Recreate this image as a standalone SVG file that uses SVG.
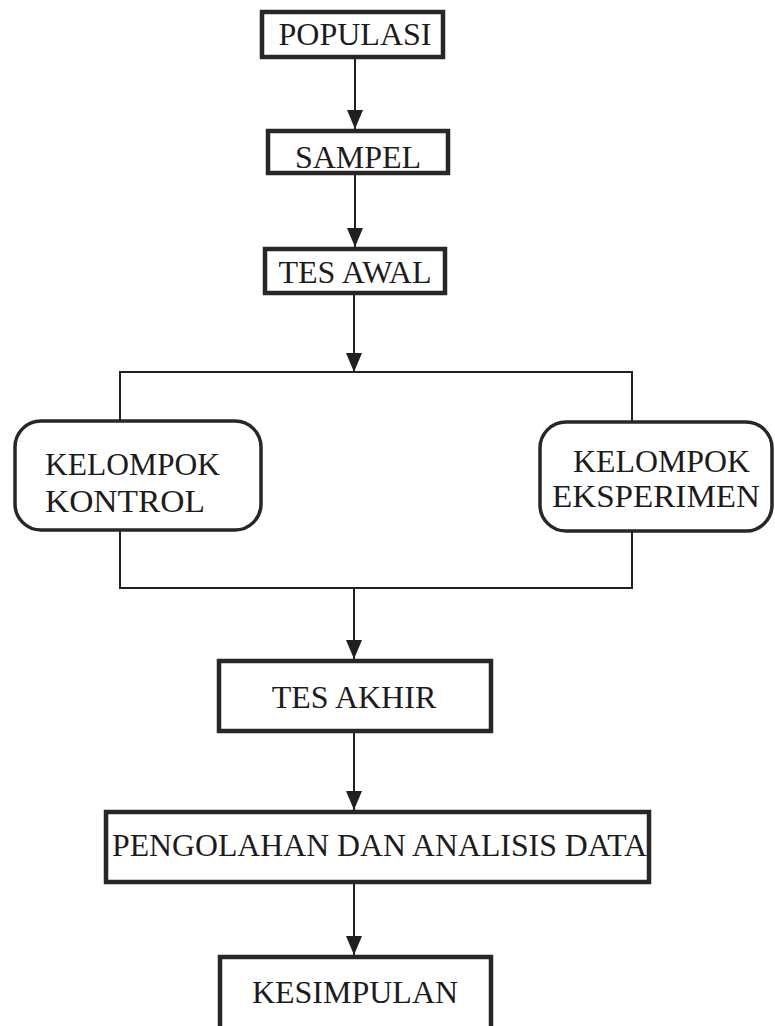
<svg xmlns="http://www.w3.org/2000/svg" width="775" height="1026" viewBox="0 0 775 1026">
<style>
.box{fill:#ffffff;stroke:#2a2627;stroke-width:4.5}
.rbox{fill:#ffffff;stroke:#2a2627;stroke-width:3.5}
.lbl{font-family:"Liberation Serif","Times New Roman",serif;font-size:32px;fill:#1e1b1c}
.c{text-anchor:middle}
.ln{fill:none;stroke:#231f20;stroke-width:2}
</style>
<defs>
<marker id="ah" markerUnits="userSpaceOnUse" markerWidth="20" markerHeight="18" refX="19" refY="8" orient="auto">
<path d="M0,0 L19,8 L0,16 Z" fill="#231f20"/>
</marker>
</defs>
<rect width="775" height="1026" fill="#ffffff"/>
<g id="connectors">
<line class="ln" x1="355" y1="59" x2="355" y2="129" marker-end="url(#ah)"/>
<line class="ln" x1="355" y1="175" x2="355" y2="247" marker-end="url(#ah)"/>
<line class="ln" x1="354" y1="295" x2="354" y2="372" marker-end="url(#ah)"/>
<polyline class="ln" points="120,421 120,372 632,372 632,422"/>
<polyline class="ln" points="120,530 120,588 632,588 632,531"/>
<line class="ln" x1="354" y1="588" x2="354" y2="659" marker-end="url(#ah)"/>
<line class="ln" x1="354" y1="733" x2="354" y2="810" marker-end="url(#ah)"/>
<line class="ln" x1="354" y1="884" x2="354" y2="955" marker-end="url(#ah)"/>
</g>
<g id="populasi">
<rect class="box" x="262" y="12" width="181" height="45"/>
<text class="lbl c" x="355" y="45">POPULASI</text>
</g>
<g id="sampel">
<rect class="box" x="268" y="131" width="180" height="42"/>
<text class="lbl c" x="358" y="168">SAMPEL</text>
</g>
<g id="tes-awal">
<rect class="box" x="265" y="249" width="180" height="44"/>
<text class="lbl c" x="355" y="283">TES AWAL</text>
</g>
<g id="kelompok-kontrol">
<rect class="rbox" x="15" y="421" width="246" height="109" rx="26" ry="26"/>
<text class="lbl" x="45" y="475" font-size="34" textLength="175" lengthAdjust="spacingAndGlyphs">KELOMPOK</text>
<text class="lbl" x="45" y="512" font-size="34" textLength="160" lengthAdjust="spacingAndGlyphs">KONTROL</text>
</g>
<g id="kelompok-eksperimen">
<rect class="rbox" x="540" y="422" width="232" height="109" rx="26" ry="26"/>
<text class="lbl" x="573" y="472" font-size="34" textLength="177" lengthAdjust="spacingAndGlyphs">KELOMPOK</text>
<text class="lbl" x="552" y="507" font-size="34" textLength="208" lengthAdjust="spacingAndGlyphs">EKSPERIMEN</text>
</g>
<g id="tes-akhir">
<rect class="box" x="219" y="661" width="272" height="70"/>
<text class="lbl c" x="354" y="708">TES AKHIR</text>
</g>
<g id="pengolahan">
<rect class="box" x="106" y="812" width="543" height="70"/>
<text class="lbl" x="112" y="856" textLength="535" lengthAdjust="spacingAndGlyphs">PENGOLAHAN DAN ANALISIS DATA</text>
</g>
<g id="kesimpulan">
<rect class="box" x="220" y="957" width="271" height="80"/>
<text class="lbl c" x="355" y="1003">KESIMPULAN</text>
</g>
</svg>
